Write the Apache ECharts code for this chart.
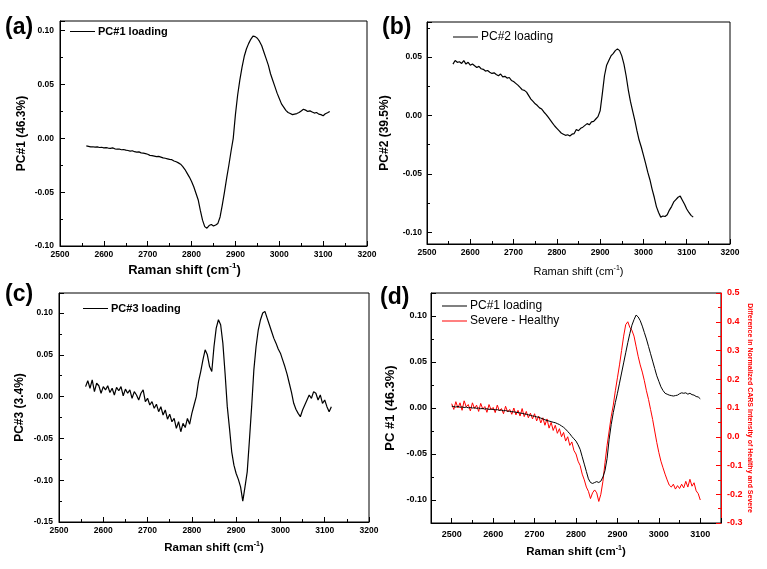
<!DOCTYPE html>
<html>
<head>
<meta charset="utf-8">
<script src="https://cdn.jsdelivr.net/npm/echarts@6/dist/echarts.min.js"></script>
<style>html,body{margin:0;padding:0;background:#fff;}#c{width:767px;height:569px;}</style>
</head>
<body>
<div id="c"></div>
<script>
// Wavenumbers (cm^-1) for panels a, b, c
const xABC = [
2560,2565,2570,2575,2580,2585,2590,2595,2600,2605,
2610,2615,2620,2625,2630,2635,2640,2645,2650,2655,
2660,2665,2670,2675,2680,2685,2690,2695,2700,2705,
2710,2715,2720,2725,2730,2735,2740,2745,2750,2755,
2760,2765,2770,2775,2780,2785,2790,2795,2800,2805,
2810,2815,2820,2825,2830,2835,2840,2845,2850,2855,
2860,2865,2870,2875,2880,2885,2890,2895,2900,2905,
2910,2915,2920,2925,2930,2935,2940,2945,2950,2955,
2960,2965,2970,2975,2980,2985,2990,2995,3000,3005,
3010,3015,3020,3025,3030,3035,3040,3045,3050,3055,
3060,3065,3070,3075,3080,3085,3090,3095,3100,3105,
3110,3115];
// PC#1 loading (a)
const pc1A = [
-0.007,-0.0075,-0.008,-0.0078,-0.0082,-0.0079,-0.0085,-0.0083,-0.0088,-0.0086,
-0.009,-0.0093,-0.0089,-0.0097,-0.0101,-0.0099,-0.0106,-0.0104,-0.011,-0.0113,
-0.0118,-0.0115,-0.0124,-0.0128,-0.0126,-0.0135,-0.0138,-0.0142,-0.0148,-0.0158,
-0.016,-0.0165,-0.017,-0.0168,-0.0175,-0.0182,-0.0185,-0.019,-0.0195,-0.0198,
-0.021,-0.0218,-0.0228,-0.024,-0.0262,-0.029,-0.0325,-0.036,-0.040,-0.045,
-0.051,-0.057,-0.067,-0.076,-0.082,-0.0835,-0.081,-0.080,-0.0815,-0.0805,
-0.079,-0.073,-0.062,-0.050,-0.037,-0.025,-0.012,0.000,0.022,0.040,
0.054,0.066,0.076,0.083,0.088,0.092,0.095,0.0945,0.093,0.090,
0.086,0.080,0.074,0.068,0.060,0.054,0.048,0.042,0.037,0.032,
0.029,0.026,0.024,0.023,0.022,0.0225,0.023,0.024,0.0255,0.027,
0.0262,0.025,0.0255,0.0245,0.0235,0.024,0.0225,0.022,0.021,0.0228,
0.0238,0.025];
// PC#2 loading (b)
const pc2B = [
0.044,0.047,0.0455,0.046,0.0445,0.047,0.044,0.0455,0.043,0.044,
0.0425,0.041,0.042,0.040,0.0395,0.038,0.0385,0.037,0.036,0.0365,
0.035,0.034,0.0355,0.033,0.0335,0.032,0.0325,0.030,0.029,0.0275,
0.026,0.024,0.022,0.0215,0.020,0.017,0.014,0.012,0.010,0.0085,
0.0065,0.0055,0.003,0.001,-0.0015,-0.004,-0.0065,-0.009,-0.011,-0.013,
-0.015,-0.016,-0.017,-0.0165,-0.0175,-0.016,-0.0155,-0.012,-0.013,-0.011,
-0.010,-0.0085,-0.007,-0.008,-0.0055,-0.005,-0.003,-0.001,0.004,0.0185,
0.034,0.043,0.047,0.051,0.053,0.0555,0.057,0.0555,0.051,0.044,
0.034,0.022,0.012,0.004,-0.004,-0.013,-0.021,-0.027,-0.034,-0.041,
-0.0485,-0.055,-0.063,-0.070,-0.078,-0.083,-0.087,-0.086,-0.0865,-0.085,
-0.081,-0.078,-0.074,-0.072,-0.070,-0.069,-0.0725,-0.076,-0.080,-0.083,
-0.0855,-0.087];
// PC#3 loading (c)
const pc3C = [
0.012,0.019,0.010,0.020,0.006,0.016,0.013,0.004,0.012,0.008,
0.013,0.005,0.010,0.002,0.011,0.007,0.012,0.001,0.009,0.004,
0.008,-0.002,0.006,0.002,-0.004,0.004,0.008,-0.006,-0.002,-0.010,
-0.006,-0.014,-0.009,-0.018,-0.012,-0.022,-0.016,-0.027,-0.021,-0.030,
-0.026,-0.038,-0.030,-0.042,-0.032,-0.037,-0.026,-0.033,-0.020,-0.010,
0.000,0.018,0.030,0.044,0.056,0.050,0.036,0.030,0.060,0.082,
0.092,0.086,0.064,0.028,-0.012,-0.038,-0.066,-0.082,-0.092,-0.099,
-0.108,-0.125,-0.108,-0.090,-0.052,-0.012,0.032,0.060,0.080,0.092,
0.100,0.102,0.094,0.086,0.078,0.070,0.064,0.057,0.052,0.044,
0.036,0.027,0.016,0.005,-0.008,-0.015,-0.020,-0.024,-0.016,-0.010,
-0.004,0.002,-0.002,0.006,0.004,-0.004,0.002,-0.008,-0.004,-0.012,
-0.018,-0.012];
// Panel d wavenumbers
const xD = [
2500,2505,2510,2515,2520,2525,2530,2535,2540,2545,
2550,2555,2560,2565,2570,2575,2580,2585,2590,2595,
2600,2605,2610,2615,2620,2625,2630,2635,2640,2645,
2650,2655,2660,2665,2670,2675,2680,2685,2690,2695,
2700,2705,2710,2715,2720,2725,2730,2735,2740,2745,
2750,2755,2760,2765,2770,2775,2780,2785,2790,2795,
2800,2805,2810,2815,2820,2825,2830,2835,2840,2845,
2850,2855,2860,2865,2870,2875,2880,2885,2890,2895,
2900,2905,2910,2915,2920,2925,2930,2935,2940,2945,
2950,2955,2960,2965,2970,2975,2980,2985,2990,2995,
3000,3005,3010,3015,3020,3025,3030,3035,3040,3045,
3050,3055,3060,3065,3070,3075,3080,3085,3090,3095,
3100];
// PC#1 loading (d, left axis)
const pc1D = [
0.002,0.0015,0.001,0.0018,0.0008,0.0012,0.0005,0.001,0.0002,0.0006,
0.000,0.0003,-0.0004,0.0000,-0.0008,-0.0005,-0.0012,-0.0008,-0.0015,-0.0012,
-0.0016,-0.002,-0.0018,-0.0025,-0.0023,-0.003,-0.0028,-0.0034,-0.0036,-0.004,
-0.0042,-0.0046,-0.005,-0.0055,-0.0058,-0.0064,-0.0068,-0.0074,-0.008,-0.0086,
-0.009,-0.0096,-0.0102,-0.011,-0.0118,-0.0128,-0.0136,-0.0142,-0.0148,-0.0155,
-0.016,-0.017,-0.018,-0.0195,-0.021,-0.023,-0.0255,-0.028,-0.031,-0.0335,
-0.036,-0.040,-0.045,-0.053,-0.061,-0.069,-0.077,-0.081,-0.082,-0.081,
-0.080,-0.081,-0.0795,-0.075,-0.068,-0.055,-0.034,-0.018,-0.005,0.006,
0.016,0.027,0.038,0.049,0.060,0.071,0.081,0.090,0.096,0.101,
0.099,0.095,0.089,0.082,0.075,0.067,0.059,0.051,0.043,0.035,
0.029,0.023,0.019,0.016,0.015,0.014,0.0135,0.013,0.0135,0.014,
0.0155,0.0165,0.016,0.0165,0.015,0.016,0.0145,0.014,0.0125,0.012,
0.010];
// Severe - Healthy (d, right axis)
const diffD = [
0.115,0.095,0.122,0.100,0.118,0.092,0.125,0.104,0.112,0.090,
0.118,0.098,0.110,0.088,0.116,0.096,0.105,0.085,0.112,0.094,
0.102,0.084,0.110,0.090,0.098,0.080,0.106,0.086,0.095,0.078,
0.100,0.076,0.092,0.072,0.098,0.070,0.088,0.066,0.082,0.062,
0.080,0.055,0.072,0.048,0.066,0.040,0.062,0.030,0.050,0.022,
0.040,0.012,0.028,0.000,0.015,-0.015,0.000,-0.030,-0.018,-0.048,
-0.060,-0.085,-0.100,-0.130,-0.150,-0.175,-0.190,-0.215,-0.195,-0.185,
-0.195,-0.225,-0.200,-0.155,-0.090,-0.030,0.020,0.070,0.110,0.160,
0.205,0.250,0.300,0.350,0.390,0.400,0.380,0.370,0.350,0.315,
0.280,0.250,0.225,0.195,0.160,0.130,0.095,0.060,0.020,-0.020,
-0.055,-0.085,-0.108,-0.130,-0.150,-0.168,-0.175,-0.165,-0.182,-0.170,
-0.180,-0.165,-0.178,-0.155,-0.175,-0.148,-0.172,-0.160,-0.188,-0.198,
-0.220];

const FONT = 'Liberation Sans, Arial, sans-serif';
const pairs = (xs, ys) => xs.map((x, i) => [x, ys[i]]);
const yFmt = (step, dec) => v => {
  const k = v / step;
  if (Math.abs(k - Math.round(k)) > 1e-6) return '';
  const r = Math.round(k) * step;
  return (Math.abs(r) < 1e-9 ? 0 : r).toFixed(dec);
};
const xFmt = v => (Math.abs(v % 100) < 1e-6 ? String(Math.round(v)) : '');

function xAxisCfg(gi, min, max, opts) {
  return Object.assign({
    type: 'value', gridIndex: gi, min: min, max: max,
    axisLine: { show: true, onZero: false, lineStyle: { color: '#000', width: 1 } },
    axisTick: { show: true, inside: true, length: 5, lineStyle: { color: '#000' } },
    minorTick: { show: true, splitNumber: 2, length: 3, lineStyle: { color: '#000' } },
    splitLine: { show: false },
    axisLabel: { formatter: xFmt, color: '#000', fontFamily: FONT, fontWeight: 'bold', fontSize: 8.5, margin: 4 },
    nameLocation: 'middle'
  }, opts);
}
function yAxisCfg(gi, min, max, opts) {
  return Object.assign({
    type: 'value', gridIndex: gi, min: min, max: max,
    axisLine: { show: true, onZero: false, lineStyle: { color: '#000', width: 1 } },
    axisTick: { show: true, inside: true, length: 5, lineStyle: { color: '#000' } },
    minorTick: { show: true, splitNumber: 2, length: 3, lineStyle: { color: '#000' } },
    splitLine: { show: false },
    axisLabel: { formatter: yFmt(0.05, 2), color: '#000', fontFamily: FONT, fontWeight: 'bold', fontSize: 8.5, margin: 6 },
    nameLocation: 'middle', nameRotate: 90
  }, opts);
}
function ramanName(size, weight, pad) {
  return {
    name: '{a|Raman shift (cm}{s|-1}{a|)}',
    nameTextStyle: {
      padding: pad || 0,
      rich: {
        a: { fontFamily: FONT, fontSize: size, fontWeight: weight, color: '#000', lineHeight: size + 3 },
        s: { fontFamily: FONT, fontSize: Math.round(size * 0.6), fontWeight: weight, color: '#000', verticalAlign: 'top', lineHeight: Math.round(size * 0.6) }
      }
    }
  };
}
const legendBase = { icon: 'rect', itemWidth: 25, itemHeight: 1, padding: 0, selectedMode: false };

const grids = [
  { left: 60, top: 21, width: 307, height: 225 },
  { left: 427, top: 22, width: 303, height: 222 },
  { left: 59, top: 293, width: 310, height: 229 },
  { left: 431, top: 293, width: 290, height: 230 }
].map(g => Object.assign({ show: true, borderColor: '#000', borderWidth: 1, backgroundColor: 'transparent', containLabel: false }, g));

const option = {
  animation: false,
  backgroundColor: '#fff',
  grid: grids,
  xAxis: [
    xAxisCfg(0, 2500, 3200, Object.assign({ interval: 100, nameGap: 16 }, ramanName(13, 'bold', [0, 58, 0, 0]))),
    xAxisCfg(1, 2500, 3200, Object.assign({ interval: 100, nameGap: 21 }, ramanName(11, 'normal'))),
    xAxisCfg(2, 2500, 3200, Object.assign({ interval: 100, nameGap: 19 }, ramanName(11.5, 'bold'))),
    xAxisCfg(3, 2450, 3150, Object.assign({ splitNumber: 7, nameGap: 22,
      axisLabel: { formatter: xFmt, color: '#000', fontFamily: FONT, fontWeight: 'bold', fontSize: 9, margin: 7 } }, ramanName(11.5, 'bold')))
  ],
  yAxis: [
    yAxisCfg(0, -0.10, 0.109, { interval: 0.05, name: 'PC#1 (46.3%)', nameGap: 32,
      nameTextStyle: { fontFamily: FONT, fontSize: 12, fontWeight: 'bold', color: '#000' } }),
    yAxisCfg(1, -0.11, 0.08, { splitNumber: 4, name: 'PC#2 (39.5%)', nameGap: 36,
      axisLabel: { formatter: yFmt(0.05, 2), color: '#000', fontFamily: FONT, fontWeight: 'bold', fontSize: 8.5, margin: 5 },
      nameTextStyle: { fontFamily: FONT, fontSize: 12, fontWeight: 'bold', color: '#000' } }),
    yAxisCfg(2, -0.15, 0.124, { interval: 0.05, name: 'PC#3 (3.4%)', nameGap: 33,
      nameTextStyle: { fontFamily: FONT, fontSize: 12, fontWeight: 'bold', color: '#000' } }),
    yAxisCfg(3, -0.125, 0.125, { splitNumber: 5, name: 'PC #1 (46.3%)', nameGap: 34,
      axisLabel: { formatter: yFmt(0.05, 2), color: '#000', fontFamily: FONT, fontWeight: 'bold', fontSize: 9, margin: 4 },
      nameTextStyle: { fontFamily: FONT, fontSize: 13, fontWeight: 'bold', color: '#000' } }),
    yAxisCfg(3, -0.3, 0.5, { interval: 0.1, position: 'right', name: 'Difference in Normalized CARS Intensity of Healthy and Severe',
      nameRotate: -90, nameGap: 24,
      axisLine: { show: true, onZero: false, lineStyle: { color: '#ff0000', width: 1 } },
      axisTick: { show: true, inside: true, length: 5, lineStyle: { color: '#ff0000' } },
      minorTick: { show: true, splitNumber: 2, length: 3, lineStyle: { color: '#ff0000' } },
      axisLabel: { formatter: yFmt(0.1, 1), color: '#ff0000', fontFamily: FONT, fontWeight: 'bold', fontSize: 9, margin: 6 },
      nameTextStyle: { fontFamily: FONT, fontSize: 7, fontWeight: 'bold', color: '#ff0000' } })
  ],
  legend: [
    Object.assign({ data: ['PC#1 loading'], left: 70, top: 26,
      textStyle: { fontFamily: FONT, fontSize: 11, fontWeight: 'bold', color: '#000', padding: [0, 0, 0, -2] } }, legendBase),
    Object.assign({ data: ['PC#2 loading'], left: 453, top: 31,
      textStyle: { fontFamily: FONT, fontSize: 12, color: '#000', padding: [0, 0, 0, -2] } }, legendBase),
    Object.assign({ data: ['PC#3 loading'], left: 83, top: 303,
      textStyle: { fontFamily: FONT, fontSize: 11, fontWeight: 'bold', color: '#000', padding: [0, 0, 0, -2] } }, legendBase),
    Object.assign({ data: ['PC#1 loading ', 'Severe - Healthy'], orient: 'vertical', left: 442, top: 300, itemGap: 3,
      textStyle: { fontFamily: FONT, fontSize: 12, color: '#000', padding: [0, 0, 0, -2] } }, legendBase)
  ],
  graphic: [
    { type: 'text', left: 5, top: 16, style: { text: '(a)', font: 'bold 23px ' + FONT, fill: '#000' } },
    { type: 'text', left: 382, top: 16, style: { text: '(b)', font: 'bold 23px ' + FONT, fill: '#000' } },
    { type: 'text', left: 5, top: 283, style: { text: '(c)', font: 'bold 23px ' + FONT, fill: '#000' } },
    { type: 'text', left: 380, top: 286, style: { text: '(d)', font: 'bold 23px ' + FONT, fill: '#000' } }
  ],
  series: [
    { name: 'PC#1 loading', type: 'line', xAxisIndex: 0, yAxisIndex: 0, data: pairs(xABC, pc1A), symbol: 'none', lineStyle: { color: '#000', width: 1.2 }, itemStyle: { color: '#000' } },
    { name: 'PC#2 loading', type: 'line', xAxisIndex: 1, yAxisIndex: 1, data: pairs(xABC, pc2B), symbol: 'none', lineStyle: { color: '#000', width: 1.2 }, itemStyle: { color: '#000' } },
    { name: 'PC#3 loading', type: 'line', xAxisIndex: 2, yAxisIndex: 2, data: pairs(xABC, pc3C), symbol: 'none', lineStyle: { color: '#000', width: 1.2 }, itemStyle: { color: '#000' } },
    { name: 'Severe - Healthy', type: 'line', xAxisIndex: 3, yAxisIndex: 4, data: pairs(xD, diffD), symbol: 'none', lineStyle: { color: '#ff0000', width: 1 }, itemStyle: { color: '#ff0000' } },
    { name: 'PC#1 loading ', type: 'line', xAxisIndex: 3, yAxisIndex: 3, data: pairs(xD, pc1D), symbol: 'none', lineStyle: { color: '#000', width: 1 }, itemStyle: { color: '#000' } }
  ]
};
const chart = echarts.init(document.getElementById('c'), null, { renderer: 'canvas' });
chart.setOption(option);
</script>
</body>
</html>
